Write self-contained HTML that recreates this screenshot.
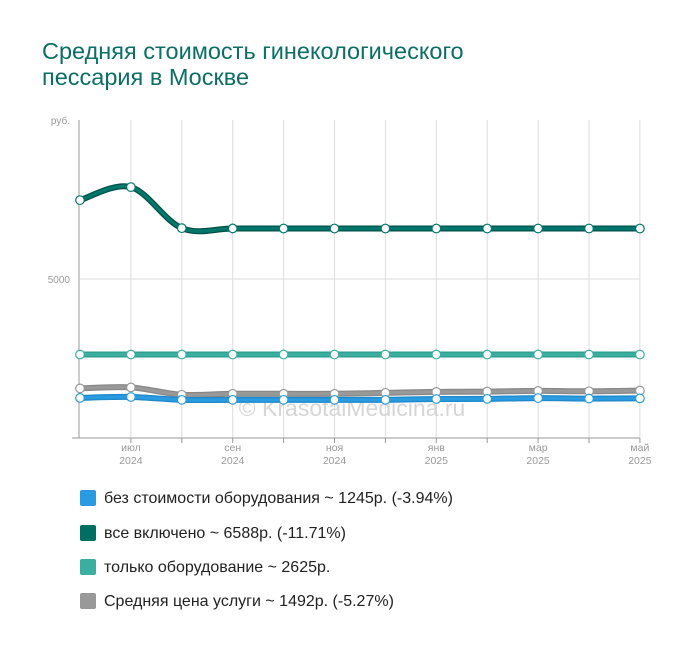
<!DOCTYPE html>
<html><head><meta charset="utf-8"><style>
body{margin:0;background:#fff;width:700px;height:650px;overflow:hidden;font-family:"Liberation Sans",sans-serif;}
.title{position:absolute;left:42px;top:38px;font-size:23.5px;line-height:26px;color:#0b6f66;}
.leg{position:absolute;left:80px;font-size:16px;color:#222;height:18px;line-height:18px;}
.leg span{display:inline-block;width:16px;height:16px;vertical-align:-3px;margin-right:8px;border-radius:2px;}
</style></head><body>
<div class="title">Средняя стоимость гинекологического<br>пессария в Москве</div>
<svg id="c" width="700" height="480" style="position:absolute;left:0;top:0"></svg>
<div class="leg" style="top:490px"><span style="background:#2a9be0"></span>без стоимости оборудования ~ 1245р. (-3.94%)</div>
<div class="leg" style="top:525px"><span style="background:#006f63"></span>все включено ~ 6588р. (-11.71%)</div>
<div class="leg" style="top:559px"><span style="background:#3aafa0"></span>только оборудование ~ 2625р.</div>
<div class="leg" style="top:593px"><span style="background:#999"></span>Средняя цена услуги ~ 1492р. (-5.27%)</div>
<script>
const months=["","июл","","сен","","ноя","","янв","","мар","","май"];
const years=["","2024","","2024","","2024","","2025","","2025","","2025"];
const allIncluded=[7480,7890,6600,6590,6588,6588,6588,6588,6588,6588,6588,6588];
const equipmentOnly=[2625,2625,2625,2625,2625,2625,2625,2625,2625,2625,2625,2625];
const average=[1560,1590,1360,1390,1390,1390,1420,1450,1460,1480,1470,1492];
const noEquipment=[1260,1290,1200,1200,1200,1200,1200,1225,1230,1255,1240,1245];
const yTicks=[5000];
const NS="http://www.w3.org/2000/svg",svg=document.getElementById('c');
const x0=80,dx=50.9,yb=438,yt=120,vmax=10000;
const X=i=>x0+i*dx, Y=v=>yb-v*(yb-yt)/vmax;
function el(t,a,p){const e=document.createElementNS(NS,t);for(const k in a)e.setAttribute(k,a[k]);(p||svg).appendChild(e);return e;}
for(let i=1;i<months.length;i++){
 const g=el('line',{x1:X(i),x2:X(i),y1:yt,y2:yb,stroke:'#ddd','stroke-width':1});
 
 
 const tk=el('line',{x1:X(i),x2:X(i),y1:yb,y2:yb+5,stroke:'#999'});
 
 
 if(months[i]){
  const t=el('text',{x:X(i),y:yb+13,'text-anchor':'middle','font-size':10.5,fill:'#999','font-family':'Liberation Sans'});
  t.textContent=months[i];
  
  
  const t2=el('text',{x:X(i),y:yb+26,'text-anchor':'middle','font-size':10.5,fill:'#999','font-family':'Liberation Sans'});
  t2.textContent=years[i];
  
  
 }
}
yTicks.forEach(v=>{
 const g=el('line',{x1:x0,x2:X(11),y1:Y(v),y2:Y(v),stroke:'#ddd'});
 
 
 const t=el('text',{x:70,y:Y(v)+4,'text-anchor':'end','font-size':10,fill:'#999','font-family':'Liberation Sans'});
 t.textContent=v;
 
 
});
const yl=el('text',{x:70,y:yt+4,'text-anchor':'end','font-size':10,fill:'#999','font-family':'Liberation Sans'});yl.textContent='руб.';


const ya=el('line',{x1:x0-1,x2:x0-1,y1:yt,y2:yb,stroke:'#999'});


const xa=el('line',{x1:72,x2:X(11),y1:yb,y2:yb,stroke:'#999'});


const wm=el('text',{x:352,y:416,'text-anchor':'middle','font-size':23,fill:'#ccc','fill-opacity':0.8,'font-family':'Liberation Sans'});
wm.textContent='© KrasotaiMedicina.ru';


function path(vals){
 const p=vals.map((v,i)=>[X(i),Y(v)]);let d=`M${p[0][0]},${p[0][1]}`;
 for(let i=0;i<p.length-1;i++){const a=p[i-1]||p[i],b=p[i],c=p[i+1],e=p[i+2]||c;
  d+=` C${b[0]+(c[0]-a[0])/6},${b[1]+(c[1]-a[1])/6} ${c[0]-(e[0]-b[0])/6},${c[1]-(e[1]-b[1])/6} ${c[0]},${c[1]}`;}
 return d;}
[[average,'#999','#888','series-average'],[noEquipment,'#2a9be0','#1e88c8','series-no-equipment'],[equipmentOnly,'#3aafa0','#2e9a8c','series-equipment-only'],[allIncluded,'#00776a','#004f47','series-all-included']].forEach(([vals,c,dk,nm])=>{
 const g=el('g',{});
 
 
 el('path',{d:path(vals),fill:'none',stroke:dk,'stroke-width':6},g);
 el('path',{d:path(vals),fill:'none',stroke:c,'stroke-width':3.5},g);
 vals.forEach((v,i)=>{const pt=el('circle',{cx:X(i),cy:Y(v),r:4.3,fill:'#fff',stroke:c,'stroke-width':1.2},g);
  
  });
});
</script>
</body></html>
